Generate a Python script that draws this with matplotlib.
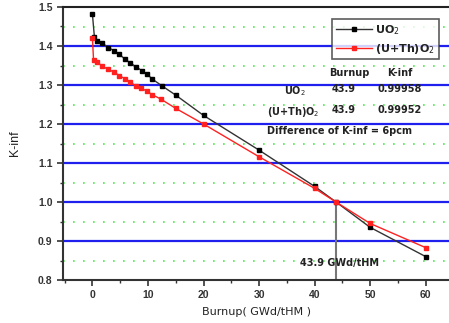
import matplotlib
matplotlib.use("Agg")
import matplotlib.pyplot as plt
from matplotlib.ticker import MultipleLocator

plt.rcParams['font.family'] = ['Liberation Sans', 'DejaVu Sans']

burnup_uo2 = [0, 0.35, 0.9, 1.8, 2.85, 3.9, 4.85, 5.86, 6.8, 7.9, 8.9, 9.9, 10.8, 12.5, 15, 20, 30, 40, 43.9, 50, 60]
kinf_uo2 = [1.481, 1.424, 1.414, 1.407, 1.396, 1.388, 1.379, 1.366, 1.357, 1.346, 1.337, 1.327, 1.315, 1.298, 1.274, 1.222, 1.133, 1.040, 0.99958, 0.935, 0.860]
burnup_th = [0, 0.2, 0.9, 1.8, 2.85, 3.9, 4.85, 5.86, 6.7, 7.8, 8.8, 9.8, 10.8, 12.3, 15, 20, 30, 40, 43.9, 50, 60]
kinf_th = [1.420, 1.364, 1.358, 1.348, 1.340, 1.333, 1.324, 1.316, 1.308, 1.298, 1.292, 1.284, 1.275, 1.264, 1.240, 1.200, 1.116, 1.035, 0.99952, 0.945, 0.883]
y_ticks = [0.8, 0.9, 1.0, 1.1, 1.2, 1.3, 1.4, 1.5]
y_labels = ['0.8', '0.9', '1.0', '1.1', '1.2', '1.3', '1.4', '1.5']
x_ticks = [0, 10, 20, 30, 40, 50, 60]
x_labels = ['0', '10', '20', '30', '40', '50', '60']
marker_burnup = 43.9

fig = plt.figure(figsize=(4.49, 3.23), dpi=100)
ax = fig.add_axes([63/449, 1 - 280/323, (449-63)/449, (280-7)/323])

ax.set_xlim(-5.3, 64.2)
ax.set_ylim(0.8, 1.5)

for y in [0.9, 1.0, 1.1, 1.2, 1.3, 1.4]:
    ax.axhline(y, color='#2020ee', lw=1.6, zorder=1)
for y in [0.85, 0.95, 1.05, 1.15, 1.25, 1.35, 1.45]:
    ax.axhline(y, color='#44ee44', lw=1.2, ls=(0, (1, 5)), zorder=1)

ax.plot([marker_burnup, marker_burnup], [0.8, 1.0], color='#777777', lw=1.5, zorder=2)

ax.plot(burnup_uo2, kinf_uo2, color='#333333', lw=1.0, marker='s', ms=2.2,
        mfc='black', mec='black', label='UO$_2$', zorder=3)
ax.plot(burnup_th, kinf_th, color='#ff2020', lw=1.0, marker='s', ms=2.2,
        mfc='#ff2020', mec='#ff2020', label='(U+Th)O$_2$', zorder=3)

ax.set_xticks(x_ticks)
ax.set_xticklabels(x_labels, fontweight='bold')
ax.set_yticks(y_ticks)
ax.set_yticklabels(y_labels, fontweight='bold')
ax.xaxis.set_minor_locator(MultipleLocator(5))
ax.yaxis.set_minor_locator(MultipleLocator(0.05))
ax.tick_params(axis='both', which='major', direction='out', length=4, width=1.2,
               labelsize=7.5, colors='#333333')
ax.tick_params(axis='both', which='minor', direction='out', length=2, width=1, colors='#333333')

for s in ['left', 'bottom']:
    ax.spines[s].set_color('#333333')
    ax.spines[s].set_linewidth(1.5)
ax.spines['top'].set_color('#222222')
ax.spines['top'].set_linewidth(1.5)
ax.spines['right'].set_visible(False)

ax.set_xlabel('Burnup( GWd/tHM )', fontsize=8, color='#222222', labelpad=5,
              family=['DejaVu Sans'])
ax.set_ylabel('K-inf', fontsize=9, color='#222222', labelpad=12)

leg = ax.legend(loc='upper right', bbox_to_anchor=(0.988, 0.975),
                prop={'family': 'DejaVu Sans', 'size': 8, 'weight': 'bold'},
                frameon=True, fancybox=False, edgecolor='#333333', handlelength=3.2,
                borderpad=0.35, labelspacing=0.4, handletextpad=0.3)
leg.get_frame().set_linewidth(1.2)
for t in leg.get_texts():
    t.set_color('#222222')

tkw = dict(fontsize=7, color='#222222', fontweight='bold', family=['DejaVu Sans'])
ax.text(46.3, 1.331, 'Burnup', ha='center', va='center', **tkw)
ax.text(55.3, 1.331, 'K-inf', ha='center', va='center', **tkw)
ax.text(45.3, 1.290, '43.9', ha='center', va='center', **tkw)
ax.text(55.3, 1.290, '0.99958', ha='center', va='center', **tkw)
ax.text(34.5, 1.284, 'UO$_2$', ha='left', va='center', **tkw)
ax.text(31.4, 1.230, '(U+Th)O$_2$', ha='left', va='center', **tkw)
ax.text(45.3, 1.236, '43.9', ha='center', va='center', **tkw)
ax.text(55.3, 1.236, '0.99952', ha='center', va='center', **tkw)
ax.text(31.4, 1.182, 'Difference of K-inf = 6pcm', ha='left', va='center', **tkw)
ax.text(44.5, 0.844, '43.9 GWd/tHM', ha='center', va='center', **tkw)

fig.savefig('out.png', dpi=100)
